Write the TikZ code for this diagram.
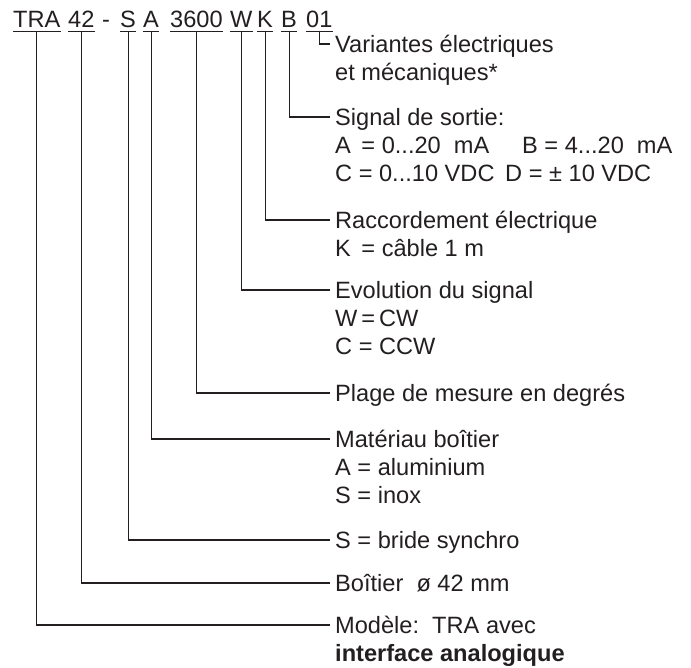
\documentclass[tikz,border=0pt]{standalone}
\usepackage{fontspec}
\setmainfont{Liberation Sans}
\definecolor{ink}{RGB}{35,31,32}
\begin{document}
\begin{tikzpicture}[x=1pt,y=-1pt,
  every node/.style={text=ink,font=\fontsize{23.6}{28}\selectfont},
  code/.style={anchor=base west,inner xsep=0pt,inner ysep=4pt,text depth=0pt},
  lbl/.style={anchor=west,inner xsep=5pt,inner ysep=0pt,text height=16.9pt,text depth=0pt},
  sub/.style={anchor=west,inner sep=0pt,text height=16.9pt,text depth=0pt},
  ul/.style={draw=ink,line width=1.1pt},
  con/.style={draw=ink,line width=1.1pt}]
\useasboundingbox (0,0) rectangle (691,667);
% code line
\node[code] (tra) at (13,27) {TRA};
\node[code] (f42) at (68,27) {42};
\node[code] (dash) at (102,27) {-};
\node[code] (s) at (120,27) {S};
\node[code] (a) at (143,27) {A};
\node[code] (r3600) at (170,27) {3600};
\node[code] (w) at (230,27) {W};
\node[code] (k) at (257,27) {K};
\node[code] (b) at (281,27) {B};
\node[code] (v01) at (306,27) {01};
\foreach \n in {tra,f42,s,a,r3600,w,k,b,v01}
  \draw[ul] (\n.south west) -- (\n.south east);
% labels
\node[lbl] (var1) at (330,44) {Variantes électriques};
\node[sub] (var2) at (335,72) {et mécaniques*};
\node[lbl] (sig1) at (330,117) {Signal de sortie:};
\node[sub] (sigA) at (335,145) {A\,\ = 0...20\ \ mA};
\node[sub] (sigB) at (522,145) {B = 4...20\ \ mA};
\node[sub] (sigC) at (335,173) {C = 0...10 VDC};
\node[sub] (sigD) at (505,173) {D = ± 10 VDC};
\node[lbl] (rac1) at (330,220) {Raccordement électrique};
\node[sub] (rac2) at (335,248) {K\,\ = câble 1 m};
\node[lbl] (evo1) at (330,290) {Evolution du signal};
\node[sub] (evo2) at (335,318) {W\,=\,CW};
\node[sub] (evo3) at (335,346) {C = CCW};
\node[lbl] (pla) at (330,393) {Plage de mesure en degrés};
\node[lbl] (mat1) at (330,439) {Matériau boîtier};
\node[sub] (mat2) at (335,467) {A = aluminium};
\node[sub] (mat3) at (335,495) {S = inox};
\node[lbl] (syn) at (330,540) {S = bride synchro};
\node[lbl] (boi) at (330,583) {Boîtier\ \ ø 42 mm};
\node[lbl] (mod1) at (330,625) {Modèle:\ \ TRA avec};
\node[sub] (mod2) at (335,653) {\bfseries interface analogique};
% connectors
\draw[con] (v01.south) |- (var1.west);
\draw[con] (b.south) |- (sig1.west);
\draw[con] (k.south) |- (rac1.west);
\draw[con] (w.south) |- (evo1.west);
\draw[con] (r3600.south) |- (pla.west);
\draw[con] (a.south) |- (mat1.west);
\draw[con] (s.south) |- (syn.west);
\draw[con] (f42.south) |- (boi.west);
\draw[con] (tra.south) |- (mod1.west);
\end{tikzpicture}
\end{document}
